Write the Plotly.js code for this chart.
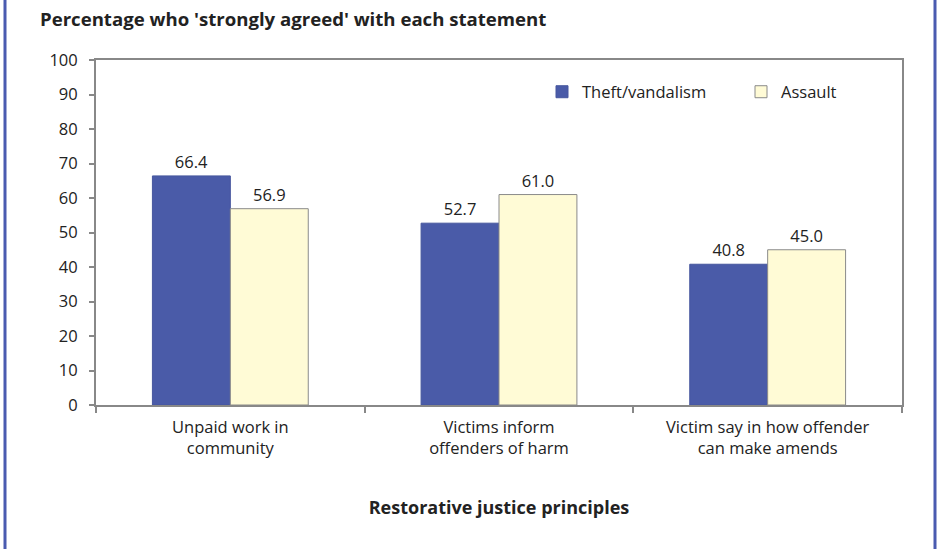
<!DOCTYPE html>
<html><head><meta charset="utf-8">
<script src="https://cdn.plot.ly/plotly-3.0.1.min.js"></script>
<style>body{margin:0;background:#fff}#chart{width:938px;height:549px}</style>
</head><body><div id="chart"></div>
<script>
const categories = ["Unpaid work in<br>community", "Victims inform<br>offenders of harm", "Victim say in how offender<br>can make amends"];
const theft = [66.4, 52.7, 40.8];
const assault = [56.9, 61.0, 45.0];
const seriesNames = ["Theft/vandalism", "Assault"];
const yTicks = [0,10,20,30,40,50,60,70,80,90,100];

const FONT = "Open Sans, sans-serif";
const FS = 16.5;
const traces = [
  {type:'bar', name:seriesNames[0], x:categories, y:theft, legend:'legend',
   marker:{color:'#4a5ba8', line:{color:'#46569e', width:1}},
   text:theft.map(v=>v.toFixed(1)), textposition:'outside', cliponaxis:false,
   textfont:{family:FONT, size:FS, color:'#222'}},
  {type:'bar', name:seriesNames[1], x:categories, y:assault, legend:'legend2',
   marker:{color:'#fffbd6', line:{color:'#8a8a8a', width:1}},
   text:assault.map(v=>v.toFixed(1)), textposition:'outside', cliponaxis:false,
   textfont:{family:FONT, size:FS, color:'#222'}}
];
const W=938, L=96, R=36, PW=W-L-R;
const legBase = {orientation:'h', xanchor:'left', y:(405-92)/345, yanchor:'middle', font:{family:FONT, size:FS, color:'#222'}, bgcolor:'rgba(0,0,0,0)'};
const layout = {
  width:938, height:549,
  margin:{l:L, r:R, t:60, b:144},
  paper_bgcolor:'#fff', plot_bgcolor:'#fff',
  font:{family:FONT, size:FS, color:'#222'},
  barmode:'group', bargap:0.42, bargroupgap:0,
  title:{text:"<b>Percentage who 'strongly agreed' with each statement</b>", x:40/W, xanchor:'left', y:1-19/549, yanchor:'middle', font:{family:FONT, size:18.6, color:'#222'}},
  xaxis:{type:'category', showline:true, mirror:true, linecolor:'#888', linewidth:2, ticks:'outside', tickson:'boundaries', ticklen:6, tickcolor:'#888', tickwidth:2,
    ticklabelstandoff:6,
    tickfont:{family:FONT, size:FS, color:'#222'},
    title:{text:'<b>Restorative justice principles</b>', standoff:43, font:{family:FONT, size:18, color:'#222'}}},
  yaxis:{range:[0,100], tickvals:yTicks, showgrid:false, zeroline:false, showline:true, mirror:true, linecolor:'#888', linewidth:2, ticks:'outside', ticklen:5, tickcolor:'#888', tickwidth:2,
    ticklabelstandoff:8,
    tickfont:{family:FONT, size:FS, color:'#222'}},
  showlegend:true,
  legend:Object.assign({}, legBase, {x:(542-L)/PW}),
  legend2:Object.assign({}, legBase, {x:(741-L)/PW}),
  shapes:[
    {type:'line', xref:'paper', yref:'paper', x0:(5-L)/PW, x1:(5-L)/PW, y0:-144/345, y1:(345+60)/345, line:{color:'#4a5bb0', width:3}},
    {type:'line', xref:'paper', yref:'paper', x0:(935-L)/PW, x1:(935-L)/PW, y0:-144/345, y1:(345+60)/345, line:{color:'#4a5bb0', width:3}}
  ]
};
Plotly.newPlot('chart', traces, layout, {displayModeBar:false});
</script></body></html>
